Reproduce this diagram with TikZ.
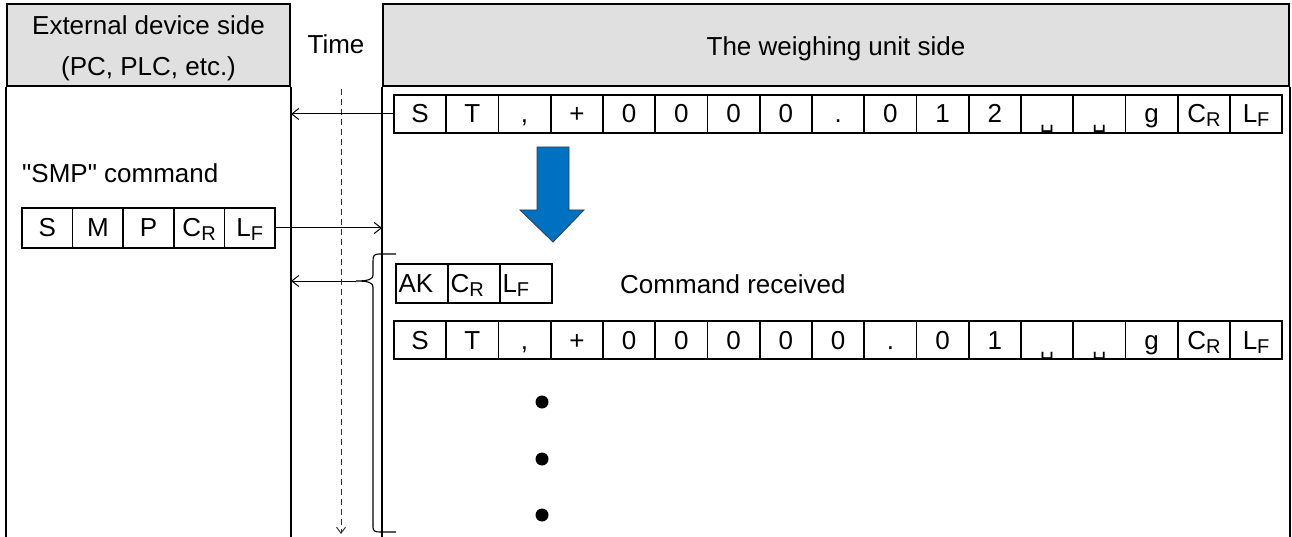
\documentclass[tikz,border=0pt]{standalone}
\usepackage{fontspec}
\setmainfont{Liberation Sans}[Ligatures=TeXOff]
\newfontfamily\dejavu{DejaVu Sans}
\usetikzlibrary{arrows.meta}
\definecolor{hdrgray}{HTML}{E0E0E0}
\definecolor{arrowblue}{HTML}{0070C0}
\definecolor{arrowedge}{HTML}{2F3F55}
\newcommand\crx{C\raisebox{-4pt}{\fontsize{20}{20}\selectfont R}}
\newcommand\lfx{L\raisebox{-4pt}{\fontsize{20}{20}\selectfont F}}
\newcommand\spx{\raisebox{-5pt}{\dejavu\fontsize{22}{22}\selectfont ␣}}
\tikzset{
  big/.style={font=\fontsize{26}{41}\selectfont},
  hdr/.style={draw, line width=2pt, fill=hdrgray, inner sep=0pt},
  body/.style={line width=2pt},
  cell/.style={draw, line width=1.6pt, big, inner sep=0pt, minimum height=38pt,
    text height=22pt, text depth=4pt},
  lcell/.style={cell, text width=49pt, align=left},
  msg/.style={line width=1pt, -{Straight Barb[length=7pt,width=11pt]}},
  brace/.style={line width=1.1pt},
  timeline/.style={line width=1pt, black!80, dash pattern=on 6pt off 4pt,
    -{Straight Barb[length=6pt,width=9pt]}},
  dot/.style={fill=black}
}
\begin{document}
\begin{tikzpicture}[x=1pt,y=-1pt]
\useasboundingbox (0,0) rectangle (1292,537);
% headers
\node[hdr, minimum width=283pt, minimum height=82pt] (hl) at (148.5,45) {};
\node[hdr, minimum width=906pt, minimum height=82pt] (hr) at (836,45) {};
\node[big, anchor=base] (hl1) at (hl.center |- 0,35) {External device side};
\node[big, anchor=base] (hl2) at (hl.center |- 0,76) {(PC, PLC, etc.)};
\node[big, anchor=base] (hrt) at (hr.center |- 0,56) {The weighing unit side};
\node[big, anchor=base] (time) at (336,54) {Time};
% panel bodies
\draw[body] (hl.south west) -- ++(0,460);
\draw[body] (hl.south east) -- ++(0,460);
\draw[body] (hr.south west) -- ++(0,460);
\draw[body] (hr.south east) -- ++(0,460);
% time line
\coordinate (t0) at (341,89);
\coordinate (t1) at (341,534);
\draw[timeline] (t0) -- (t1);
% first data row
\foreach \t [count=\i from 0] in {S,T,{,},+,0,0,0,0,.,0,1,2,\spx,\spx,g,\crx,\lfx}
  \node[cell, minimum width=52.25pt] (a\i) at ({420.1+52.25*\i},114) {\t};
% blue arrow
\draw[fill=arrowblue, draw=arrowedge, line width=0.8pt]
  (537,147) -- (569,147) -- (569,210) -- (584,210) -- (553,242) -- (520,210) -- (537,210) -- cycle;
% SMP command
\node[big, anchor=base west, inner sep=0pt] (smpl) at (22,183) {"SMP" command};
\foreach \t [count=\i from 0] in {S,M,P,\crx,\lfx}
  \node[cell, minimum width=50.6pt, minimum height=40pt] (s\i) at ({47.3+50.6*\i},228) {\t};
% AK reply
\foreach \t [count=\i from 0] in {AK,\crx,\lfx}
  \node[lcell, minimum width=52pt, minimum height=39pt] (k\i) at ({422+52*\i},283.5) {\hspace{1pt}\t};
\node[big, anchor=base west, inner sep=0pt] (recv) at (620,293) {Command received};
% second data row
\foreach \t [count=\i from 0] in {S,T,{,},+,0,0,0,0,0,.,0,1,\spx,\spx,g,\crx,\lfx}
  \node[cell, minimum width=52.25pt] (b\i) at ({420.1+52.25*\i},340) {\t};
% dots
\fill[dot] (542,402) circle (6.5pt);
\fill[dot] (542,459) circle (6.5pt);
\fill[dot] (542,515) circle (6.5pt);
% brace
\coordinate (bt) at (356,281);
\draw[brace] (396,254) -- (379,254) .. controls (374,254) and (373,256) .. (373,261)
  -- (373,275) .. controls (373,279) and (369,281) .. (bt)
  .. controls (369,281) and (373,283) .. (373,287)
  -- (373,527) .. controls (373,531) and (375,532) .. (380,532) -- (396,532);
% messages
\draw[msg] (a0.west) -- (a0.west -| hl.east);
\draw[msg] (s4.east) -- (s4.east -| hr.west);
\draw[msg] (bt) -- (bt -| hl.east);
\end{tikzpicture}
\end{document}
